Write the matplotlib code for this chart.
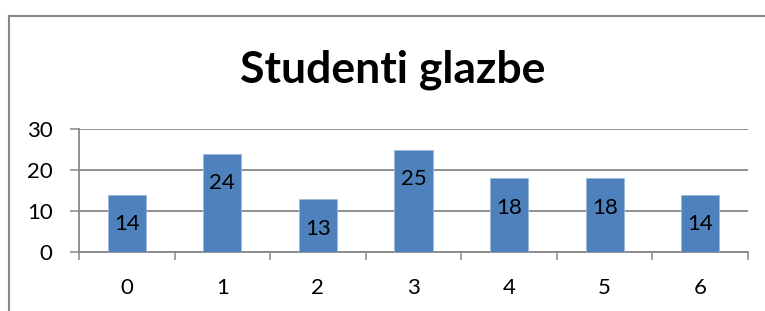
import matplotlib
matplotlib.use("Agg")
import matplotlib.pyplot as plt
from matplotlib.lines import Line2D

categories = ["0", "1", "2", "3", "4", "5", "6"]
values = [14, 24, 13, 25, 18, 18, 14]
y_ticks = [0, 10, 20, 30]
title = "Studenti glazbe"

BAR_COLOR = "#4F81BD"
GRID_COLOR = "#878787"
FONT = "Lato"


def main():
    fig = plt.figure(figsize=(7.65, 3.11), dpi=100)
    ax = fig.add_axes([79 / 765, 1 - 252 / 311, (748 - 79) / 765, (252 - 129) / 311])

    x = list(range(len(categories)))
    ax.bar(x, values, width=0.4, color=BAR_COLOR, edgecolor="#9DB8DB", linewidth=0.6, zorder=3)

    # labels near the top, inside the bar
    for xi, v in zip(x, values):
        ax.annotate(str(v), (xi, v), xytext=(0, -21.5), textcoords="offset points",
                    ha="center", va="center", fontsize=16, family=FONT, zorder=4)

    ax.set_xlim(-0.5, len(categories) - 0.5)
    ax.set_ylim(0, 30)
    ax.set_yticks(y_ticks)
    ax.set_yticklabels([str(t) for t in y_ticks], fontsize=16, family=FONT)
    ax.yaxis.grid(True, color=GRID_COLOR, linewidth=1.3, zorder=0)
    ax.tick_params(axis="y", length=6.5, width=1.1, color=GRID_COLOR, pad=12.5)

    # ticks on the category borders, labels in the middle
    ax.set_xticks([i - 0.5 for i in range(len(categories) + 1)])
    ax.set_xticklabels([])
    ax.set_xticks(x, minor=True)
    ax.set_xticklabels(categories, minor=True, fontsize=16, family=FONT)
    ax.tick_params(axis="x", which="major", length=6, width=1.1, color=GRID_COLOR)
    ax.tick_params(axis="x", which="minor", length=0, pad=18.5)

    for side in ["top", "right"]:
        ax.spines[side].set_visible(False)
    for side in ["left", "bottom"]:
        ax.spines[side].set_color(GRID_COLOR)
        ax.spines[side].set_linewidth(1.3)

    fig.text(392.5 / 765, 1 - 82 / 311, title, ha="center", va="baseline",
             fontsize=32, fontweight="bold", family=FONT)

    # chart frame, only top and left edges are inside the picture
    left = 9 / 765
    top = 1 - 16 / 311
    fig.add_artist(Line2D([left, 1.0], [top, top], transform=fig.transFigure,
                          color="#868686", linewidth=1.5))
    fig.add_artist(Line2D([left, left], [0.0, top], transform=fig.transFigure,
                          color="#868686", linewidth=1.5))

    fig.savefig("out.png", dpi=100)


if __name__ == "__main__":
    main()
